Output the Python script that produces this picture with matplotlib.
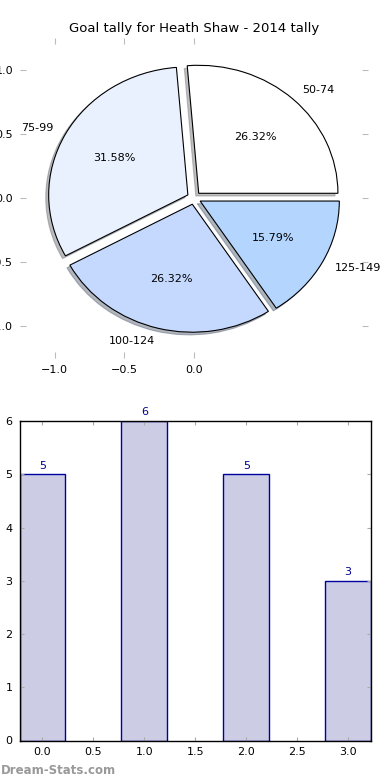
import matplotlib
matplotlib.use("Agg")
import matplotlib.pyplot as plt

labels = ["50-74", "75-99", "100-124", "125-149"]
counts = [5, 6, 5, 3]
pie_colors = ["#FFFFFF", "#EAF1FE", "#C5D8FE", "#B3D5FE"]
bar_x = [0, 1, 2, 3]
bar_vals = [5, 6, 5, 3]

plt.rcParams['font.family'] = ['DejaVu Sans']
plt.rcParams['font.size'] = 8

fig = plt.figure(figsize=(3.9, 7.8), dpi=100)

# Pie
ax1 = fig.add_axes([20/390, 1-358/780, 348/390, 320/780])
wedges, texts, autotexts = ax1.pie(counts, labels=labels, colors=pie_colors,
        explode=[0.05]*4, autopct='%1.2f%%',
        shadow={'ox': -0.015, 'oy': -0.015, 'shade': 0.5}, startangle=0,
        wedgeprops=dict(edgecolor='black', linewidth=0.8),
        textprops=dict(fontsize=8), frame=True)
ax1.set_aspect('auto')
ax1.set_xlim(-1.25, 1.25)
ax1.set_ylim(-1.25, 1.25)
for s in ax1.spines.values():
    s.set_visible(False)
ax1.set_xticks([-1.0, -0.5, 0.0])
ax1.set_xticklabels(['\u22121.0', '\u22120.5', '0.0'])
ax1.set_yticks([-1.0, -0.5, 0.0, 0.5, 1.0])
ax1.set_yticklabels(['\u22121.0', '\u22120.5', '0.0', '0.5', '1.0'])
ax1.tick_params(axis='both', which='both', direction='in', length=4, color='#BBBBBB',
                top=True, right=True, labelsize=8, pad=5)
ax1.set_title("Goal tally for Heath Shaw - 2014 tally", fontsize=9.5, pad=4)

# Bars
ax2 = fig.add_axes([19.5/390, 39.5/780, 351.5/390, 319.5/780])
bars = ax2.bar(bar_x, bar_vals, width=0.45, color='#CCCCE5', edgecolor='#0000A0', linewidth=1.0)
for x, v in zip(bar_x, bar_vals):
    ax2.text(x, v + 0.07, str(v), ha='center', va='bottom', color='#00008B', fontsize=8)
ax2.set_xlim(-0.225, 3.225)
ax2.set_ylim(0, 6)
ax2.set_xticks([0.0, 0.5, 1.0, 1.5, 2.0, 2.5, 3.0])
ax2.set_xticklabels(['0.0', '0.5', '1.0', '1.5', '2.0', '2.5', '3.0'])
ax2.set_yticks([0, 1, 2, 3, 4, 5, 6])
ax2.tick_params(axis='both', which='both', direction='in', length=3, color='#AAAAAA',
                top=True, right=True, labelsize=8, pad=5)
for s in ax2.spines.values():
    s.set_linewidth(1.0)

fig.text(1/390, 1-770/780, "Dream-Stats.com", color='#999999', fontsize=8.5,
         ha='left', va='center', fontweight='bold')

fig.savefig("out.png", dpi=100)
